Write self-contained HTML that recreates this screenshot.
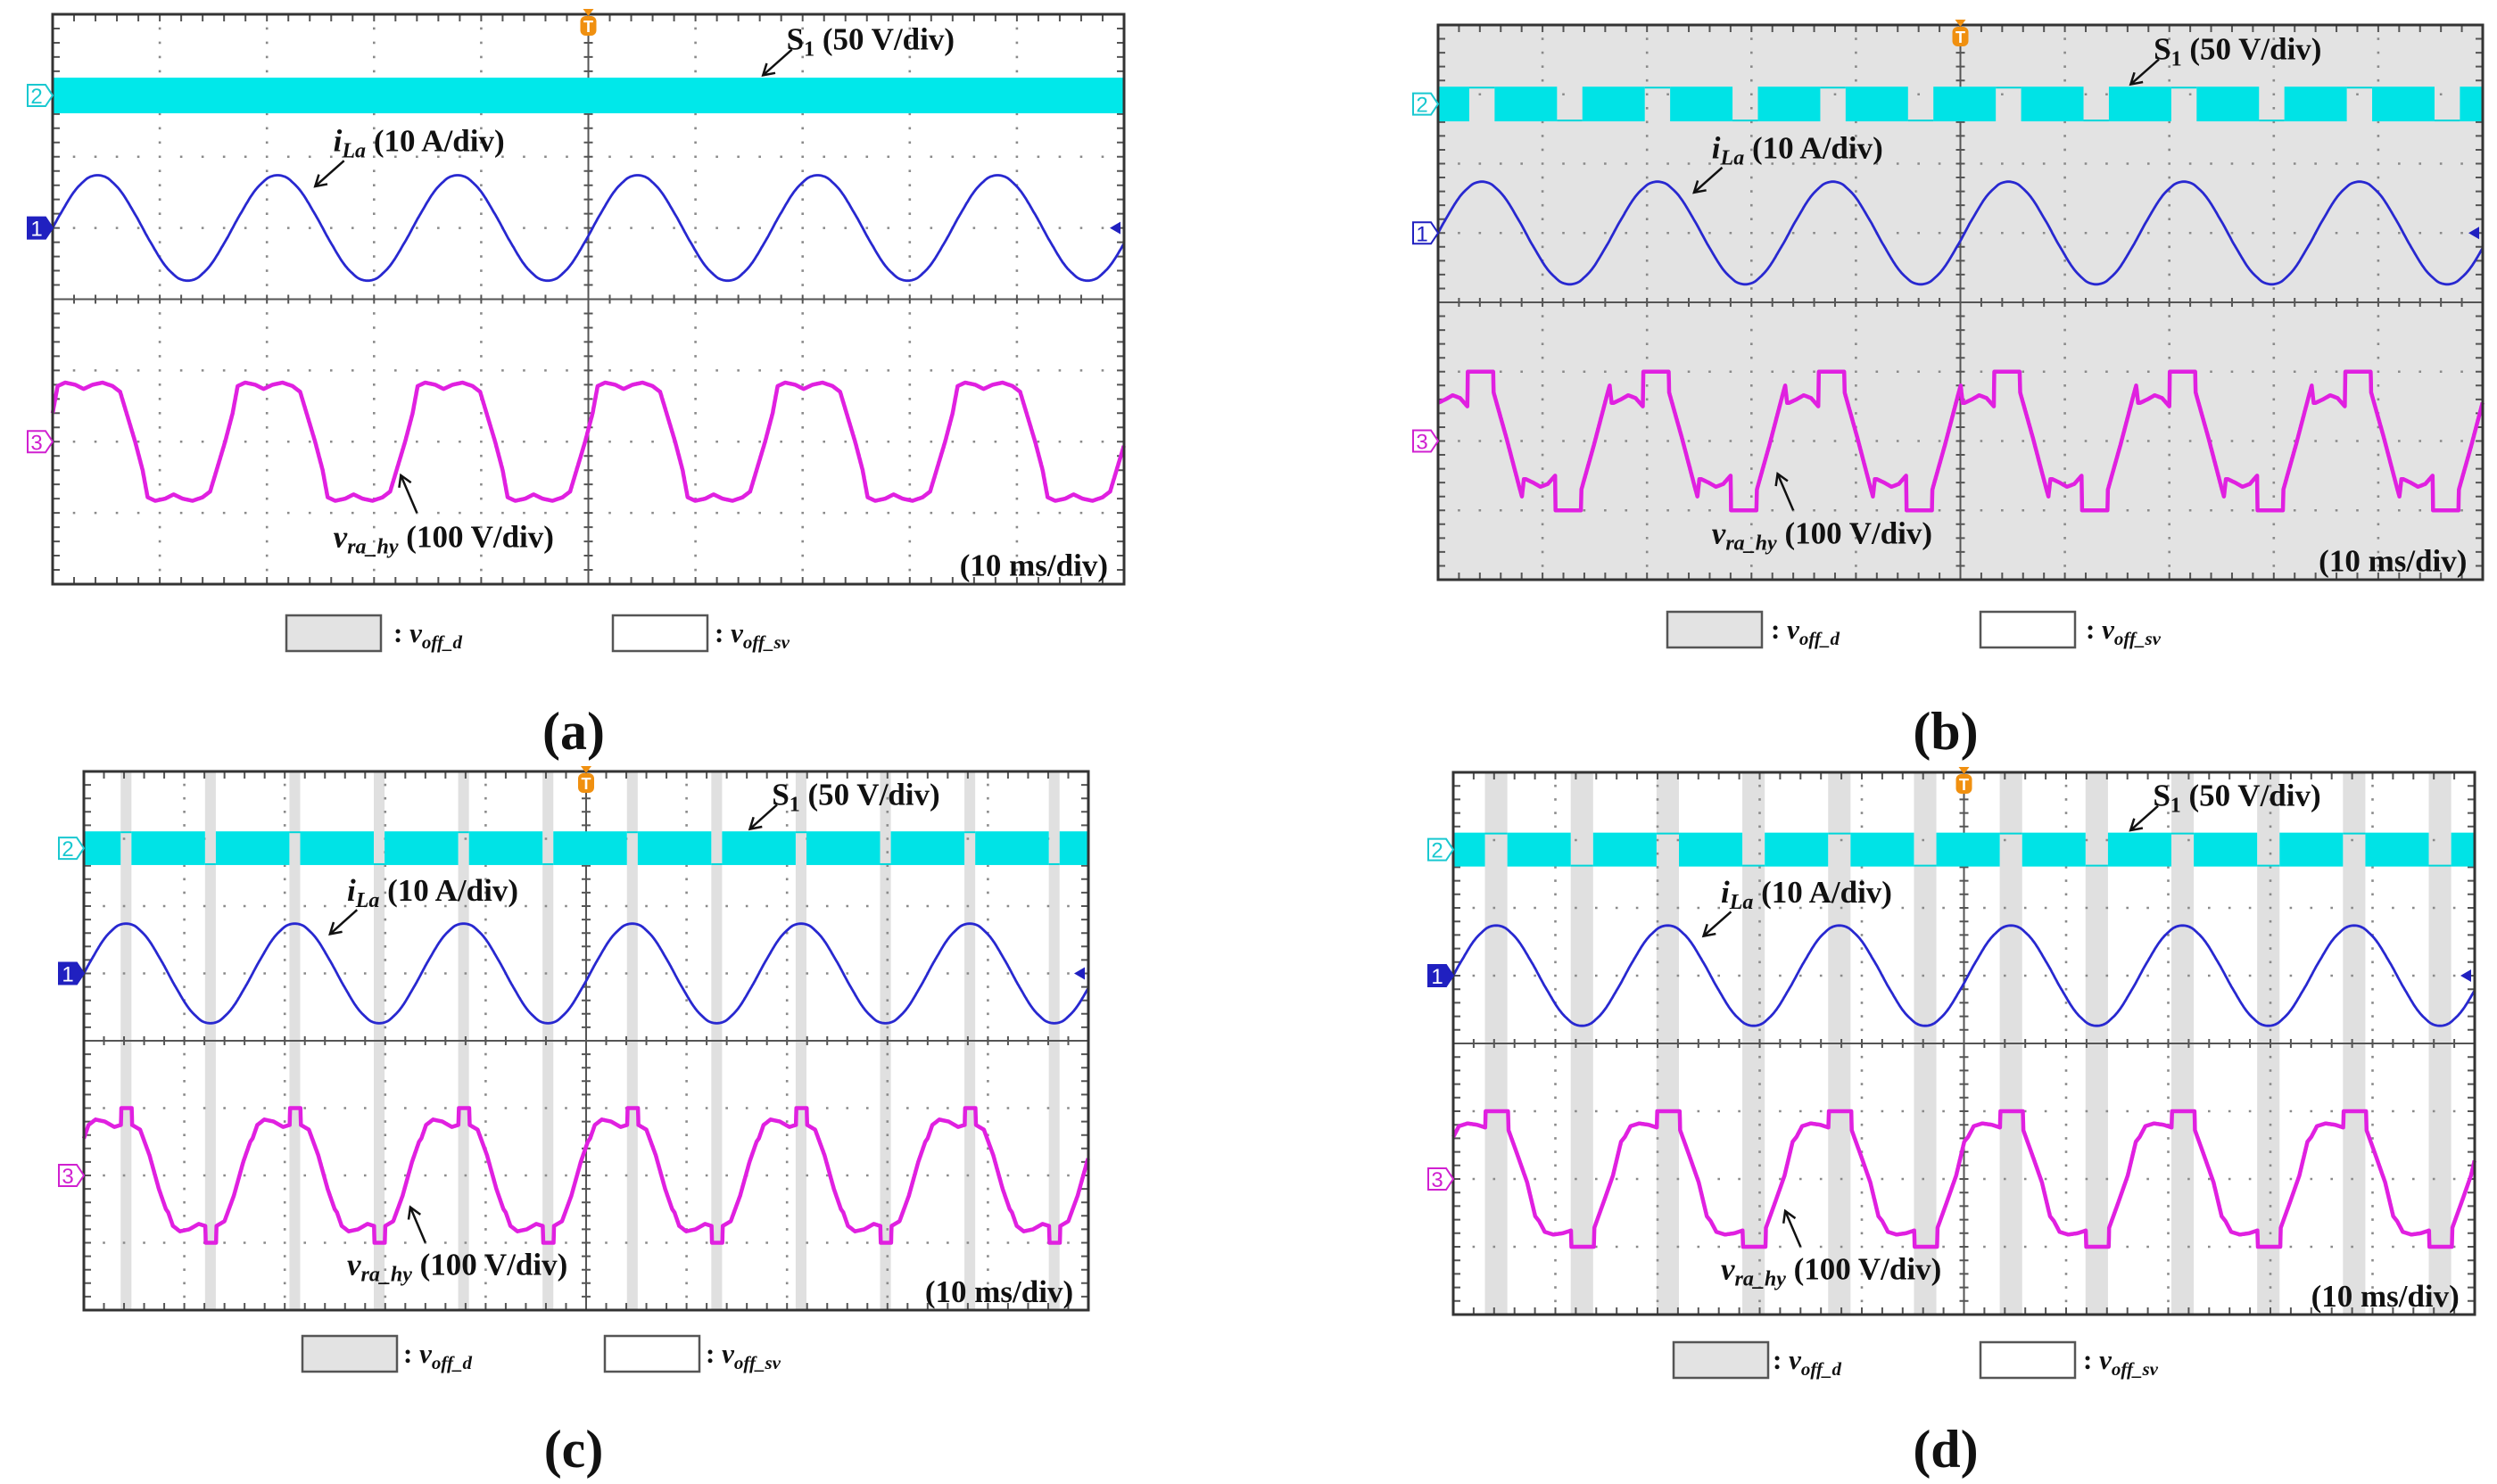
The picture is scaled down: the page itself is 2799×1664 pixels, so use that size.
<!DOCTYPE html>
<html><head><meta charset="utf-8">
<style>
html,body{margin:0;padding:0;background:#fff;}
body{width:2799px;height:1664px;overflow:hidden;position:relative;font-family:"Liberation Serif",serif;}
svg{position:absolute;left:0;top:0;}
</style></head>
<body>
<svg id="fig" width="2799" height="1664" viewBox="0 0 2799 1664" xmlns="http://www.w3.org/2000/svg"></svg>
<script>
// ---- data (values in divisions; phase in degrees relative to current zero crossing) ----
const periodDiv = 1.68;            // one fundamental period in time divisions
const cyanBand = [0.89, 1.39];      // S1 band top/bottom (div from top)
const currentCenter = 3.0;          // ch1 level (div)
const voltageCenter = 6.0;          // ch3 level (div)
const currentSamples = [0,0.13,0.25,0.37,0.48,0.57,0.64,0.70,0.73,0.74,0.73,0.70,0.64,0.57,0.48,0.37,0.25,0.13,
  0,-0.13,-0.25,-0.37,-0.48,-0.57,-0.64,-0.70,-0.73,-0.74,-0.73,-0.70,-0.64,-0.57,-0.48,-0.37,-0.25,-0.13];
// half-cycle voltage shapes [phase, value]; second half mirrored (odd symmetry)
const voltA = [[0,0.40],[10,0.78],[25,0.83],[45,0.80],[62,0.74],[80,0.80],[100,0.83],[120,0.78],[135,0.70],[150,0.35],[165,0.0]];
const voltB = [[0,0.55],[15,0.60],[30,0.66],[45,0.62],[60,0.50],[61,1.0],[113,1.0],[114,0.70],[140,0.05],[168,-0.70],[172,-0.80],[176,-0.55]];
const voltC = [[0,0.55],[10,0.75],[25,0.83],[45,0.80],[65,0.72],[79,0.75],[80,1.0],[102,1.0],[103,0.75],[120,0.68],[140,0.30],[160,-0.20],[175,-0.50]];
const voltD = [[0,0.62],[12,0.78],[30,0.82],[50,0.80],[67,0.76],[68,1.0],[115,1.0],[116,0.72],[135,0.35],[155,-0.05],[172,-0.55]];
const stripeWidthDeg = [0, 52, 23, 47];
const panelLetters = ['(a)','(b)','(c)','(d)'];

const NS='http://www.w3.org/2000/svg';
const svg=document.getElementById('fig');
function mk(tag,attrs,parent){const e=document.createElementNS(NS,tag);for(const k in attrs)e.setAttribute(k,attrs[k]);(parent||svg).appendChild(e);return e;}

const panels=[
 {x0:59,y0:16,w:1201,h:639,bg:'#ffffff',volt:voltA,sw:stripeWidthDeg[0],leg:[321,687,441,801,690],letter:[643,840]},
 {x0:1612,y0:28,w:1171,h:622,bg:'#e3e3e3',volt:voltB,sw:stripeWidthDeg[1],leg:[1869,2220,1985,2338,686],letter:[2181,840]},
 {x0:94,y0:865,w:1126,h:604,bg:'#ffffff',volt:voltC,sw:stripeWidthDeg[2],leg:[339,678,452,791,1498],letter:[643,1645]},
 {x0:1629,y0:866,w:1145,h:608,bg:'#ffffff',volt:voltD,sw:stripeWidthDeg[3],leg:[1876,2220,1987,2335,1505],letter:[2181,1645]}
];

function voltAt(shape,th){
  th=((th%360)+360)%360; let sign=1;
  if(th>=180){th-=180;sign=-1;}
  const pts=shape.concat([[180,-shape[0][1]]]);
  for(let i=0;i<pts.length-1;i++){
    if(th>=pts[i][0]&&th<=pts[i+1][0]){
      const t=(th-pts[i][0])/((pts[i+1][0]-pts[i][0])||1);
      return sign*(pts[i][1]+t*(pts[i+1][1]-pts[i][1]));
    }
  }
  return sign*pts[pts.length-1][1];
}
function curAt(th){
  th=((th%360)+360)%360; const n=currentSamples.length, f=th/360*n;
  const i=Math.floor(f), t=f-i;
  const p0=currentSamples[(i-1+n)%n],p1=currentSamples[i%n],p2=currentSamples[(i+1)%n],p3=currentSamples[(i+2)%n];
  return 0.5*((2*p1)+(-p0+p2)*t+(2*p0-5*p1+4*p2-p3)*t*t+(-p0+3*p1-3*p2+p3)*t*t*t);
}

panels.forEach((p,pi)=>{
  const g=mk('g',{});
  
  
  const dx=p.w/10, dy=p.h/8;
  const X=th=>p.x0+th/360*periodDiv*dx;
  const Y=d=>p.y0+d*dy;
  const thMax=10/periodDiv*360;
  const bg=mk('rect',{x:p.x0,y:p.y0,width:p.w,height:p.h,fill:p.bg},g);
  
  
  if(p.sw>0 && pi!==1){
    for(let k=0;90+k*180-p.sw/2<thMax;k++){
      const c=90+k*180;
      const a=Math.max(0,c-p.sw/2), b=Math.min(thMax,c+p.sw/2);
      const s=mk('rect',{x:X(a),y:p.y0,width:X(b)-X(a),height:p.h,fill:'#e0e0e0'},g);
      
      
    }
  }
  let gd='';
  for(let i=1;i<10;i++){ if(i===5)continue; const x=p.x0+i*dx; for(let j=1;j<40;j++){gd+=`M${x-1.3},${p.y0+j*dy/5}h2.6`;} }
  for(let j=1;j<8;j++){ if(j===4)continue; const y=p.y0+j*dy; for(let i=1;i<50;i++){gd+=`M${p.x0+i*dx/5-1.3},${y}h2.6`;} }
  const grid=mk('path',{d:gd,stroke:'#8a8a8a','stroke-width':2.6,fill:'none'},g);
  
  
  let cl=`M${p.x0+5*dx},${p.y0}V${p.y0+p.h}M${p.x0},${p.y0+4*dy}H${p.x0+p.w}`;
  for(let j=1;j<40;j++){const y=p.y0+j*dy/5;cl+=`M${p.x0+5*dx-5},${y}h10M${p.x0},${y}h8M${p.x0+p.w-8},${y}h8`;}
  for(let i=1;i<50;i++){const x=p.x0+i*dx/5;cl+=`M${x},${p.y0+4*dy-5}v10M${x},${p.y0}v8M${x},${p.y0+p.h-8}v8`;}
  const axes=mk('path',{d:cl,stroke:'#555','stroke-width':2,fill:'none'},g);
  
  
  const yt=Y(cyanBand[0]), yb=Y(cyanBand[1]);
  if(p.sw===0){
    const r=mk('rect',{x:p.x0,y:yt,width:p.w,height:yb-yt,fill:'#00e8ea'},g);
    
    
  } else {
    let prev=0;
    for(let k=0;;k++){
      const c=90+k*180, a=c-p.sw/2, b=c+p.sw/2;
      const end=Math.min(a,thMax);
      if(end>prev){const r=mk('rect',{x:X(prev),y:yt,width:X(end)-X(prev),height:yb-yt,fill:'#00e3e6'},g);
        
        }
      if(a>=thMax)break;
      const ly=(k%2===0)?yt+1:yb-1;
      const l=mk('line',{x1:X(a),x2:X(Math.min(b,thMax)),y1:ly,y2:ly,stroke:'#00d6d9','stroke-width':2},g);
      
      
      prev=b; if(prev>=thMax)break;
    }
  }
  let cd='';
  for(let th=0;th<=thMax;th+=2){cd+=(th?'L':'M')+X(th).toFixed(1)+','+Y(currentCenter-curAt(th)).toFixed(1);}
  const ct=mk('path',{d:cd,stroke:'#2828d0','stroke-width':2.8,fill:'none'},g);
  
  
  let vd='';
  for(let th=0;th<=thMax;th+=0.5){vd+=(th?'L':'M')+X(th).toFixed(1)+','+Y(voltageCenter-voltAt(p.volt,th)).toFixed(1);}
  const vt=mk('path',{d:vd,stroke:'#e020e0','stroke-width':4.5,fill:'none','stroke-linejoin':'round'},g);
  
  
  const bd=mk('rect',{x:p.x0,y:p.y0,width:p.w,height:p.h,fill:'none',stroke:'#333','stroke-width':3},g);
  
  
  const mkr=(lvl,txt,col,fillc,name)=>{
    const y=Y(lvl), x=p.x0-28;
    const m=mk('g',{},g);
    
    
    mk('path',{d:`M${x},${y-12}h20l8,12l-8,12h-20z`,fill:fillc,stroke:col,'stroke-width':2},m);
    const t=mk('text',{x:x+10,y:y+9,'font-size':24,'text-anchor':'middle',fill:fillc==='#fff'?col:'#fff','font-family':'Liberation Sans, sans-serif'},m);
    t.textContent=txt;
  };
  mkr((cyanBand[0]+cyanBand[1])/2,'2','#19c8d0','#fff','ch2-marker');
  mkr(currentCenter,'1','#2020c0',pi===1?'#fff':'#2020c0','ch1-marker');
  mkr(voltageCenter,'3','#d020d0','#fff','ch3-marker');
  const tg=mk('g',{},g);
  
  
  const tx=p.x0+5*dx;
  mk('path',{d:`M${tx-6},${p.y0-6}h12l-6,8z`,fill:'#f09010'},tg);
  mk('rect',{x:tx-9,y:p.y0+2,width:18,height:22,rx:6,fill:'#f09010'},tg);
  const tt=mk('text',{x:tx,y:p.y0+20,'font-size':18,'text-anchor':'middle',fill:'#fff','font-family':'Liberation Sans, sans-serif','font-weight':'bold'},tg);
  tt.textContent='T';
  const ra=mk('path',{d:`M${p.x0+p.w-4},${Y(currentCenter)-7}l-12,7l12,7z`,fill:'#2020c0'},g);
  
  
  const lab=(fx,fy,html,name,anchor)=>{
    const t=mk('text',{x:p.x0+fx*p.w,y:p.y0+fy*p.h,'font-size':35,'font-weight':'bold','font-family':'Liberation Serif, serif','text-anchor':anchor||'start',fill:'#111'},g);
    t.innerHTML=html;
    
    
  };
  lab(0.685,0.062,'S<tspan font-size="24" dy="7">1</tspan><tspan dy="-7"> (50 V/div)</tspan>','s1-label');
  lab(0.262,0.24,'<tspan font-style="italic">i</tspan><tspan font-style="italic" font-size="24" dy="7">La</tspan><tspan dy="-7"> (10 A/div)</tspan>','current-label');
  lab(0.262,0.935,'<tspan font-style="italic">v</tspan><tspan font-style="italic" font-size="24" dy="7">ra_hy</tspan><tspan dy="-7"> (100 V/div)</tspan>','voltage-label');
  lab(0.985,0.985,'(10 ms/div)','timebase-label','end');
  const arr=(x1,y1,x2,y2,name)=>{
    const a=mk('g',{},g);
    
    
    const X1=p.x0+x1*p.w,Y1=p.y0+y1*p.h,X2=p.x0+x2*p.w,Y2=p.y0+y2*p.h;
    mk('line',{x1:X1,y1:Y1,x2:X2,y2:Y2,stroke:'#111','stroke-width':2.5},a);
    const ang=Math.atan2(Y2-Y1,X2-X1),L=14;
    mk('path',{d:`M${X2+L*Math.cos(ang+2.6)},${Y2+L*Math.sin(ang+2.6)}L${X2},${Y2}L${X2+L*Math.cos(ang-2.6)},${Y2+L*Math.sin(ang-2.6)}`,stroke:'#111','stroke-width':2.5,fill:'none'},a);
  };
  arr(0.69,0.062,0.663,0.107,'s1-arrow');
  arr(0.272,0.257,0.245,0.302,'current-arrow');
  arr(0.34,0.875,0.325,0.809,'voltage-arrow');
  const [b1,b2,t1,t2,ly]=p.leg;
  const lg=mk('g',{});
  
  
  const r1=mk('rect',{x:b1,y:ly,width:106,height:40,fill:'#e3e3e3',stroke:'#555','stroke-width':2.5},lg);
  
  
  const r2=mk('rect',{x:b2,y:ly,width:106,height:40,fill:'#fff',stroke:'#555','stroke-width':2.5},lg);
  
  
  const l1=mk('text',{x:t1,y:ly+30,'font-size':31,'font-weight':'bold','font-family':'Liberation Serif, serif',fill:'#111'},lg);
  l1.innerHTML=': <tspan font-style="italic">v</tspan><tspan font-style="italic" font-size="21" dy="7">off_d</tspan>';
  
  
  const l2=mk('text',{x:t2,y:ly+30,'font-size':31,'font-weight':'bold','font-family':'Liberation Serif, serif',fill:'#111'},lg);
  l2.innerHTML=': <tspan font-style="italic">v</tspan><tspan font-style="italic" font-size="21" dy="7">off_sv</tspan>';
  
  
  const lt=mk('text',{x:p.letter[0],y:p.letter[1],'font-size':60,'font-weight':'bold','text-anchor':'middle','font-family':'Liberation Serif, serif',fill:'#111'});
  lt.textContent=panelLetters[pi];
  
  
});
</script>
</body></html>
